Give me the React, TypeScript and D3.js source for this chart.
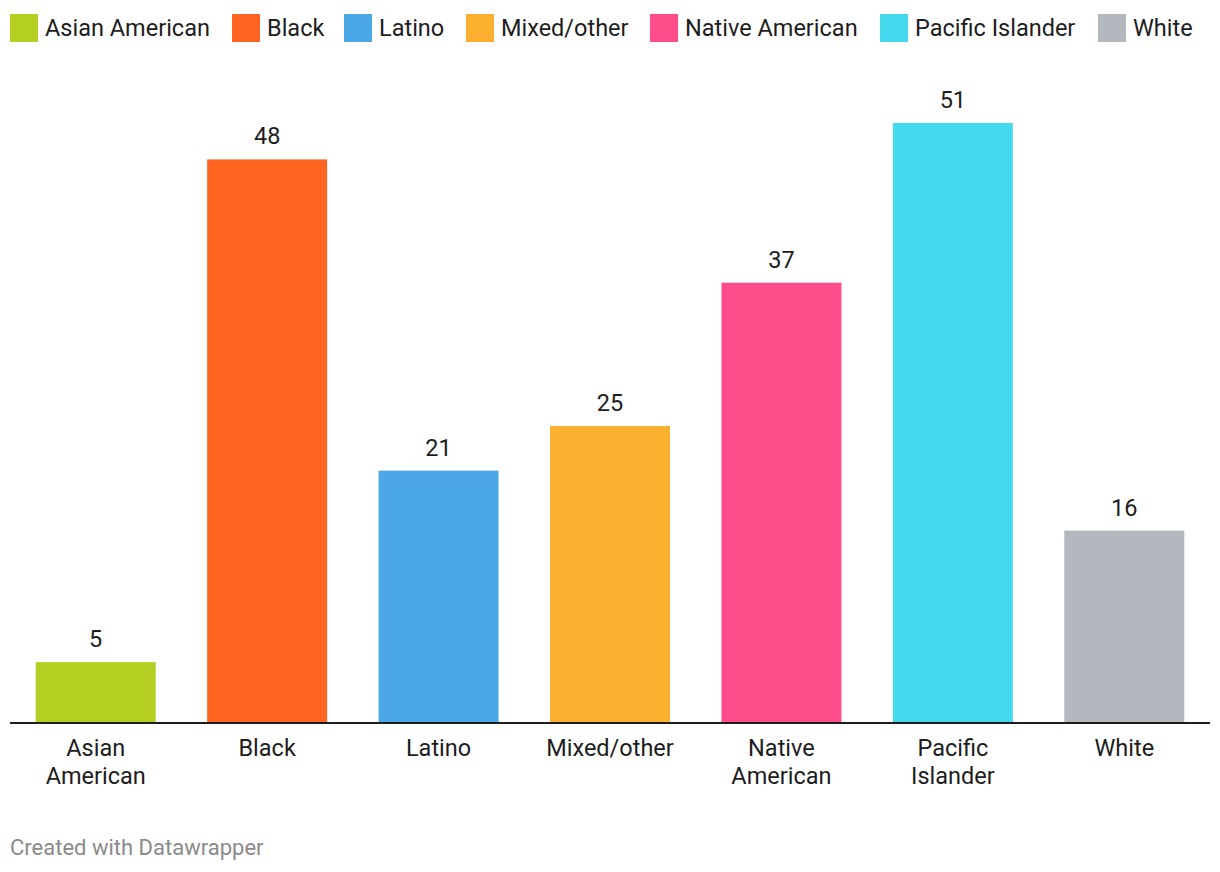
import { useEffect, useRef } from "react";
import * as d3 from "d3";

const W = 1220;
const H = 872;
const PAD = { top: 123, right: 10, bottom: 150, left: 10 };

const categories = [
  "Asian American",
  "Black",
  "Latino",
  "Mixed/other",
  "Native American",
  "Pacific Islander",
  "White",
];
// bar heights; labels show them rounded
const values = [5.1, 47.9, 21.4, 25.2, 37.4, 51, 16.3];
const tickLines = [
  ["Asian", "American"],
  ["Black"],
  ["Latino"],
  ["Mixed/other"],
  ["Native", "American"],
  ["Pacific", "Islander"],
  ["White"],
];
const colors = [
  "#b5ce22",
  "#ff6420",
  "#4ba7e6",
  "#fbb02f",
  "#ff4c8b",
  "#44d9ed",
  "#b3b7be",
];
const legendX = [10, 232, 344, 466, 650, 880, 1098];

const FONT = "Roboto, 'Noto Sans', sans-serif";

export default function App() {
  const svgRef = useRef<SVGSVGElement>(null);

  useEffect(() => {
    const svg = d3.select(svgRef.current);
    if (!svg.node()) return;
    svg.selectAll("*").remove();

    const baseY = H - PAD.bottom;

    const x = d3
      .scaleBand<string>()
      .domain(categories)
      .range([PAD.left, W - PAD.right])
      .paddingInner(0.3)
      .paddingOuter(0.15);

    const y = d3
      .scaleLinear()
      .domain([0, d3.max(values) ?? 1])
      .range([baseY, PAD.top]);

    const color = d3.scaleOrdinal<string, string>().domain(categories).range(colors);

    // legend
    const legend = svg
      .append("g")
      .selectAll("g")
      .data(categories)
      .enter()
      .append("g")
      .attr("transform", (_d, i) => `translate(${legendX[i]},14)`);
    legend
      .append("rect")
      .attr("width", 28)
      .attr("height", 28)
      .attr("fill", (d) => color(d));
    legend
      .append("text")
      .attr("x", 35)
      .attr("y", 22)
      .style("font-family", FONT)
      .style("font-size", "23.5px")
      .style("fill", "#1d1d1d")
      .text((d) => d);

    // bars
    svg
      .append("g")
      .selectAll("rect")
      .data(categories)
      .enter()
      .append("rect")
      .attr("x", (d) => x(d)!)
      .attr("width", x.bandwidth())
      .attr("y", (_d, i) => y(values[i]))
      .attr("height", (_d, i) => baseY - y(values[i]))
      .attr("fill", (d) => color(d));

    // value labels
    svg
      .append("g")
      .selectAll("text")
      .data(categories)
      .enter()
      .append("text")
      .attr("x", (d) => x(d)! + x.bandwidth() / 2)
      .attr("y", (_d, i) => y(values[i]) - 15)
      .attr("text-anchor", "middle")
      .style("font-family", FONT)
      .style("font-size", "23.5px")
      .style("fill", "#1d1d1d")
      .text((_d, i) => String(Math.round(values[i])));

    // baseline
    svg
      .append("line")
      .attr("x1", PAD.left)
      .attr("x2", W - PAD.right)
      .attr("y1", baseY + 1)
      .attr("y2", baseY + 1)
      .attr("stroke", "#1d1d1d")
      .attr("stroke-width", 2);

    // category labels
    const ticks = svg
      .append("g")
      .selectAll("text")
      .data(categories)
      .enter()
      .append("text")
      .attr("text-anchor", "middle")
      .style("font-family", FONT)
      .style("font-size", "23.5px")
      .style("fill", "#1d1d1d");
    ticks
      .selectAll("tspan")
      .data((_d, i) =>
        tickLines[i].map((t, j) => ({ t, j, cx: x(categories[i])! + x.bandwidth() / 2 })),
      )
      .enter()
      .append("tspan")
      .attr("x", (d) => d.cx)
      .attr("y", (d) => baseY + 34 + d.j * 28)
      .text((d) => d.t);

    // footer
    svg
      .append("text")
      .attr("x", 10)
      .attr("y", 855)
      .style("font-family", FONT)
      .style("font-size", "22px")
      .style("fill", "#8a8a8a")
      .text("Created with Datawrapper");
  }, []);

  return (
    <svg
      ref={svgRef}
      width={W}
      height={H}
      style={{ position: "absolute", left: 0, top: 0, background: "#fff" }}
    />
  );
}
